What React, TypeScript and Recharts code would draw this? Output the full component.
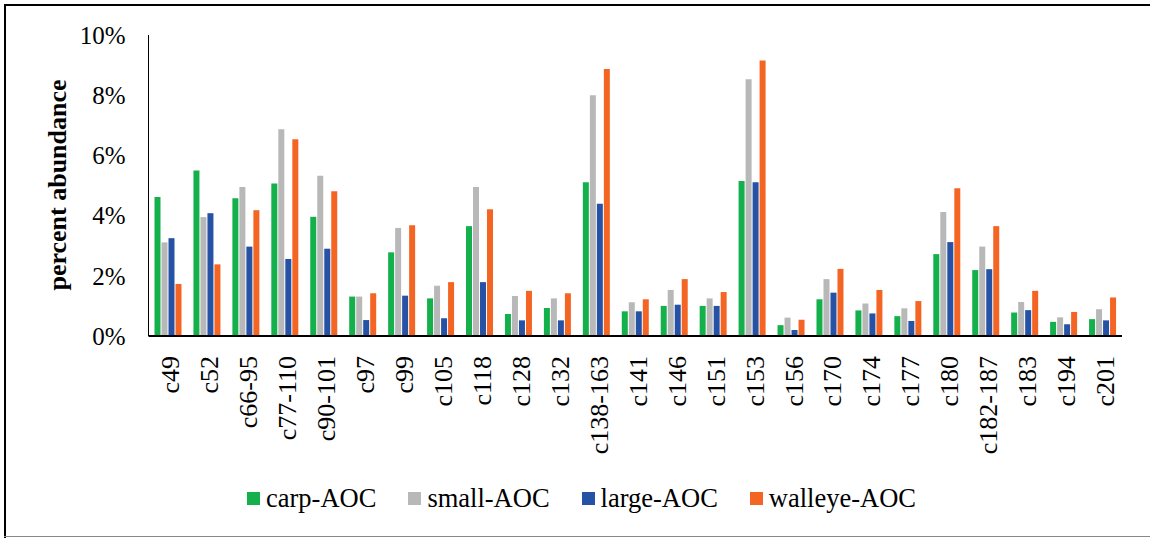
import React from 'react';
import { BarChart, Bar, XAxis, YAxis, Legend } from 'recharts';

const categories = ['c49','c52','c66-95','c77-110','c90-101','c97','c99','c105','c118','c128','c132','c138-163','c141','c146','c151','c153','c156','c170','c174','c177','c180','c182-187','c183','c194','c201'];
const carp = [4.62, 5.50, 4.58, 5.07, 3.96, 1.31, 2.78, 1.25, 3.65, 0.73, 0.93, 5.11, 0.82, 1.00, 1.00, 5.15, 0.36, 1.22, 0.85, 0.66, 2.72, 2.19, 0.78, 0.47, 0.56];
const small = [3.11, 3.95, 4.95, 6.87, 5.32, 1.31, 3.59, 1.67, 4.95, 1.33, 1.25, 8.0, 1.12, 1.53, 1.25, 8.53, 0.61, 1.89, 1.08, 0.92, 4.12, 2.97, 1.13, 0.62, 0.89];
const large = [3.25, 4.08, 2.97, 2.56, 2.90, 0.53, 1.34, 0.59, 1.79, 0.52, 0.52, 4.39, 0.82, 1.04, 1.00, 5.11, 0.20, 1.44, 0.75, 0.50, 3.12, 2.22, 0.86, 0.39, 0.52];
const walleye = [1.73, 2.38, 4.18, 6.54, 4.81, 1.42, 3.68, 1.79, 4.21, 1.50, 1.42, 8.87, 1.22, 1.89, 1.46, 9.15, 0.54, 2.23, 1.53, 1.16, 4.91, 3.65, 1.50, 0.80, 1.28];
const yTicks = [0, 2, 4, 6, 8, 10];
const seriesNames = ['carp-AOC', 'small-AOC', 'large-AOC', 'walleye-AOC'];
const seriesKeys = ['carp', 'small', 'large', 'walleye'];
const seriesColors = ['#14B04C', '#B8B8B8', '#2652A6', '#F46524'];

const data = categories.map((c, i) => ({
  name: c,
  carp: carp[i],
  small: small[i],
  large: large[i],
  walleye: walleye[i],
}));

const FONT = '"Liberation Serif", "Times New Roman", serif';

const XTick = (props: any) => {
  const { x, y, payload } = props;
  const tx = x + 3;
  const ty = y + 20;
  return (
    <text
      x={tx}
      y={ty}
      transform={`rotate(-90, ${tx}, ${ty})`}
      textAnchor="end"
      dominantBaseline="central"
      fontFamily={FONT}
      fontSize={26}
      fill="#000"
    >
      {payload.value}
    </text>
  );
};

const LegendContent = () => (
  <div
    style={{
      display: 'flex',
      alignItems: 'center',
      height: 80,
      paddingLeft: 247,
      fontFamily: FONT,
      fontSize: 26.5,
      color: '#000',
      boxSizing: 'border-box',
    }}
  >
    {seriesNames.map((n, i) => (
      <div key={n} style={{ display: 'flex', alignItems: 'center', marginRight: 32 }}>
        <div style={{ width: 13, height: 13, background: seriesColors[i], marginRight: 6 }} />
        <span>{n}</span>
      </div>
    ))}
  </div>
);

const YLabel = () => (
  <text
    x={57}
    y={185}
    transform="rotate(-90, 57, 185)"
    textAnchor="middle"
    dominantBaseline="central"
    fontFamily={FONT}
    fontSize={26}
    fontWeight="bold"
    fill="#000"
  >
    percent abundance
  </text>
);

export default function App() {
  return (
    <div style={{ position: 'absolute', left: 0, top: 0, width: 1150, height: 538, background: '#fff' }}>
      <div style={{ position: 'absolute', left: 4, top: 4, width: 2, height: 534, background: '#000' }} />
      <div style={{ position: 'absolute', left: 4, top: 4, width: 1146, height: 2, background: '#000' }} />
      <div style={{ position: 'absolute', left: 4, top: 536, width: 1146, height: 1, background: '#888' }} />
      <BarChart
        width={1150}
        height={538}
        data={data}
        margin={{ top: 35, right: 28, left: 0, bottom: 0 }}
        barSize={6}
        barGap={1}
      >
        <XAxis
          dataKey="name"
          height={122}
          interval={0}
          tickLine={false}
          tickSize={0}
          tickMargin={0}
          axisLine={{ stroke: '#000', strokeWidth: 2 }}
          tick={<XTick />}
        />
        <YAxis
          width={148.5}
          domain={[0, 10]}
          ticks={yTicks}
          tickFormatter={(v: number) => `${v}%`}
          tickLine={false}
          tickSize={0}
          tickMargin={23}
          axisLine={{ stroke: '#000', strokeWidth: 1 }}
          tick={{ fontFamily: FONT, fontSize: 25, fill: '#000' }}
          label={<YLabel />}
        />
        <Legend
          verticalAlign="bottom"
          height={80}
          wrapperStyle={{ left: 0, width: 1150 }}
          content={<LegendContent />}
        />
        {seriesKeys.map((k, i) => (
          <Bar key={k} dataKey={k} name={seriesNames[i]} fill={seriesColors[i]} isAnimationActive={false} />
        ))}
      </BarChart>
    </div>
  );
}
